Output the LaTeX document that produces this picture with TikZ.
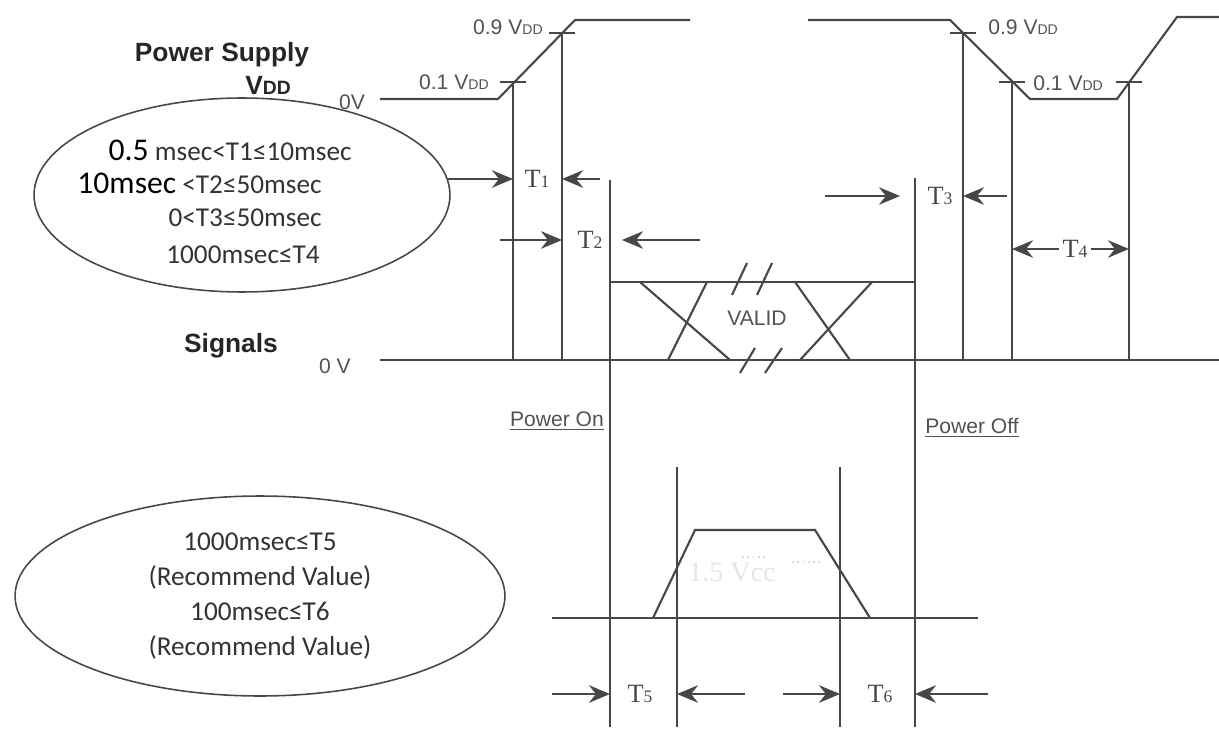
\documentclass[tikz,border=0pt]{standalone}
\usepackage{fontspec}
\setmainfont{Liberation Sans}
\newfontfamily\calibrifont{Carlito}
\newfontfamily\timesfont{Liberation Serif}
\usetikzlibrary{arrows.meta, shapes.geometric}

\definecolor{wirecol}{gray}{0.28}
\definecolor{labelcol}{gray}{0.32}
\definecolor{speccol}{gray}{0.2}

\newcommand{\vdd}{V{\fontsize{8}{8}\selectfont DD}}
\newcommand{\tsub}[1]{{\fontsize{10}{10}\selectfont #1}}

\tikzset{
  wire/.style={line width=1.2pt, draw=wirecol},
  dimarrow/.style={wire, -{Stealth[length=12pt, width=10pt, inset=4pt]}},
  vlabel/.style={font=\fontsize{12}{14}\selectfont, text=labelcol, inner sep=0pt},
  tlabel/.style={font=\timesfont\fontsize{15}{17}\selectfont, text=wirecol, inner sep=2pt},
  spec/.style={font=\calibrifont\fontsize{15.5}{20}\selectfont, text=speccol, inner sep=0pt},
  heading/.style={font=\bfseries\fontsize{15}{18}\selectfont, text=black!85, inner sep=0pt},
  bubble/.style={draw=wirecol, line width=0.9pt, ellipse, inner sep=0pt},
}

\begin{document}
\begin{tikzpicture}[x=0.02cm, y=-0.02cm]
  \useasboundingbox (0,0) rectangle (1219,729);

  % Level crossings and timing lines
  \coordinate (p1) at (513,82);
  \coordinate (p9) at (562,33);
  \coordinate (f9) at (963,33);
  \coordinate (f1) at (1012,82);
  \coordinate (r1) at (1129,82);
  \coordinate (on) at (610,180);
  \coordinate (off) at (915,178);
  \coordinate (s5) at (677,467);
  \coordinate (s6) at (840,467);
  \coordinate (base) at (380,360);
  \coordinate (floor) at (0,727);

  % Power supply waveform
  \draw[wire] (380,99) -- (498,99) -- (575,20) -- (690,20);
  \draw[wire] (808,20) -- (950,20) -- (1030,99) -- (1117,99) -- (1177,17) -- (1219,17);

  % Ticks
  \foreach \p in {p1,p9,f9,f1,r1} {
    \draw[wire] (\p) ++(-13,0) -- ++(26,0);
    \draw[wire] (\p) -- (\p |- base);
  }
  \draw[wire] (on) -- (on |- floor);
  \draw[wire] (off) -- (off |- floor);

  % Signals
  \draw[wire] (base) -- (1219,360);
  \draw[wire] (610,282) -- (915,282);
  \draw[wire] (640,282) -- (730,360);
  \draw[wire] (707,282) -- (668,360);
  \draw[wire] (795,282) -- (850,360);
  \draw[wire] (872,282) -- (800,360);
  \draw[wire] (732,295) -- (747,263);
  \draw[wire] (757,295) -- (772,263);
  \draw[wire] (740,373) -- (755,348);
  \draw[wire] (765,373) -- (782,348);
  \node[vlabel] (valid) at (757,318) {VALID};

  % Lower pulse
  \draw[wire] (552,618) -- (978,618);
  \draw[wire] (653,618) -- (695,530) -- (815,530) -- (870,618);
  \draw[wire] (s5) -- (s5 |- floor);
  \draw[wire] (s6) -- (s6 |- floor);
  \node[font=\timesfont\fontsize{16}{18}\selectfont, text=black!10, inner sep=0pt] (ghost) at (732,572) {1.5 Vcc};
  \draw[black!15, dotted, line width=1pt] (742,557) -- (768,557);
  \draw[black!15, dotted, line width=1pt] (792,562) -- (820,562);

  % Labels
  \node[heading] (supply) at (222,55) {Power Supply};
  \node[heading] (vddlab) at (268,85) {V{\fontsize{11}{11}\selectfont DD}};
  \node[vlabel] (zerotop) at (352,102) {0V};
  \node[heading] (signals) at (231,346) {Signals};
  \node[vlabel] (zerosig) at (335,366) {0 V};
  \node[vlabel, anchor=east] (rise09) at (543,27) {0.9 \vdd};
  \node[vlabel, anchor=east] (rise01) at (489,82) {0.1 \vdd};
  \node[vlabel, anchor=west] (fall09) at (988,27) {0.9 \vdd};
  \node[vlabel, anchor=west] (fall01) at (1033,83) {0.1 \vdd};
  \node[vlabel] (pon) at (557,421) {\underline{Power On}};
  \node[vlabel] (poff) at (972,428) {\underline{Power Off}};

  % Limits
  \node[bubble, minimum width=8.32cm, minimum height=3.88cm] (limits) at (242,195) {};
  \node[spec, anchor=east] (lim1) at (352,150) {{\fontsize{18}{20}\selectfont\color{black}0.5} msec<T1≤10msec};
  \node[spec, anchor=east] (lim2) at (322,183) {{\fontsize{18}{20}\selectfont\color{black}10msec} <T2≤50msec};
  \node[spec, anchor=east] (lim3) at (322,218) {0<T3≤50msec};
  \node[spec, anchor=east] (lim4) at (320,255) {1000msec≤T4};
  \node[bubble, spec, align=center, minimum width=9.8cm, minimum height=4cm] (rec) at (260,596)
    {1000msec≤T5\\(Recommend Value)\\100msec≤T6\\(Recommend Value)};

  % Arrows
  \node[tlabel] (t1) at (537,179) {T\tsub1};
  \draw[dimarrow] (limits.5 |- t1) -- (p1 |- t1);
  \draw[dimarrow] (p9 |- t1) ++(38,0) -- (p9 |- t1);
  \node[tlabel] (t2) at (590,240) {T\tsub2};
  \draw[dimarrow] (p9 |- t2) ++(-62,0) -- (p9 |- t2);
  \draw[dimarrow] (on |- t2) ++(90,0) -- ++(-78,0);
  \node[tlabel] (t3) at (940,196) {T\tsub3};
  \draw[dimarrow] (off |- t3) ++(-90,0) -- ++(75,0);
  \draw[dimarrow] (f9 |- t3) ++(44,0) -- (f9 |- t3);
  \node[tlabel] (t4) at (1075,249) {T\tsub4};
  \draw[dimarrow] (t4.west) -- (f1 |- t4);
  \draw[dimarrow] (t4.east) -- (r1 |- t4);
  \node[tlabel] (t5) at (640,694) {T\tsub5};
  \draw[dimarrow] (on |- t5) ++(-58,0) -- (on |- t5);
  \draw[dimarrow] (s5 |- t5) ++(68,0) -- (s5 |- t5);
  \node[tlabel] (t6) at (880,694) {T\tsub6};
  \draw[dimarrow] (s6 |- t6) ++(-57,0) -- (s6 |- t6);
  \draw[dimarrow] (off |- t6) ++(73,0) -- (off |- t6);
\end{tikzpicture}
\end{document}
